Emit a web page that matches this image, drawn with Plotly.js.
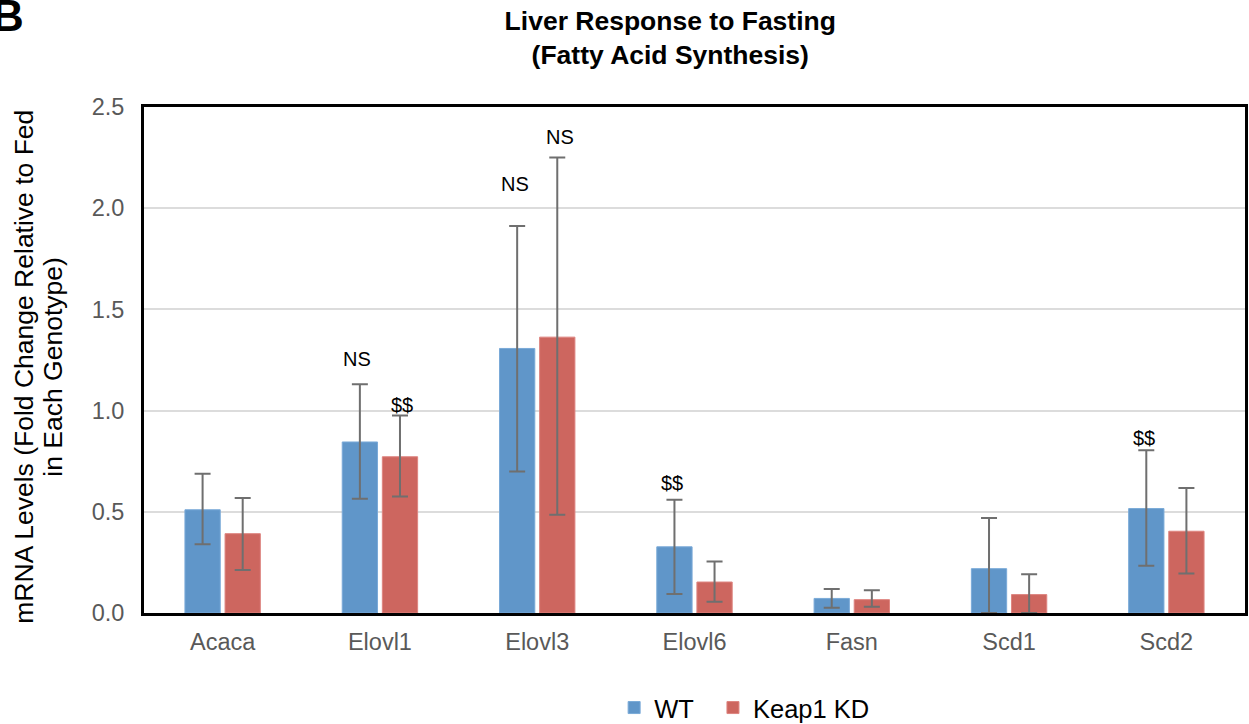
<!DOCTYPE html>
<html>
<head>
<meta charset="utf-8">
<script src="https://cdn.plot.ly/plotly-3.0.1.min.js"></script>
<style>html,body{margin:0;padding:0;background:#fff;}#chart{width:1249px;height:724px;}</style>
</head>
<body>
<div id="chart"></div>
<script>
const genes = ["Acaca", "Elovl1", "Elovl3", "Elovl6", "Fasn", "Scd1", "Scd2"];
const wtValues = [0.51, 0.845, 1.307, 0.327, 0.072, 0.219, 0.516];
const wtErrPlus = [0.178, 0.285, 0.605, 0.232, 0.047, 0.25, 0.288];
const wtErrMinus = [0.17, 0.28, 0.608, 0.233, 0.046, 0.219, 0.282];
const kdValues = [0.392, 0.772, 1.363, 0.153, 0.066, 0.091, 0.404];
const kdErrPlus = [0.176, 0.204, 0.887, 0.101, 0.046, 0.1, 0.213];
const kdErrMinus = [0.179, 0.196, 0.877, 0.097, 0.035, 0.091, 0.209];

const sigGene = ["Elovl1", "Elovl1", "Elovl3", "Elovl3", "Elovl6", "Scd2"];
const sigSeries = ["WT", "KD", "WT", "KD", "WT", "WT"];
const sigText = ["NS", "$$", "NS", "NS", "$$", "$$"];
const sigY = [1.255, 1.03, 2.12, 2.35, 0.64, 0.866];

const seriesNames = ["WT", "Keap1 KD"];
const yTitleLines = ["mRNA Levels (Fold Change Relative to Fed", "in Each Genotype)"];

const FONT = "Liberation Sans, Arial, Helvetica, sans-serif";
const errStyle = {color: "#6f6f6f", thickness: 2, width: 8};

const traces = [
  {
    type: "bar", name: seriesNames[0] + "\u00a0\u00a0", x: genes, y: wtValues,
    marker: {color: "#6096c9", line: {color: "#7aaad8", width: 1}},
    error_y: Object.assign({type: "data", symmetric: false, array: wtErrPlus, arrayminus: wtErrMinus}, errStyle)
  },
  {
    type: "bar", name: seriesNames[1], x: genes, y: kdValues,
    marker: {color: "#cd665f", line: {color: "#de8580", width: 1}},
    error_y: Object.assign({type: "data", symmetric: false, array: kdErrPlus, arrayminus: kdErrMinus}, errStyle)
  }
];

const annotations = sigText.map((t, i) => ({
  x: sigGene[i], y: sigY[i], xref: "x", yref: "y", text: t, showarrow: false,
  xshift: sigSeries[i] === "WT" ? -22.5 : 22.5,
  font: {family: FONT, size: 20, color: "#000"}
}));
// panel letter
annotations.push({
  xref: "paper", yref: "paper", x: -0.1398, y: 1.18, xanchor: "left", yanchor: "middle",
  text: "<b>B</b>", showarrow: false, font: {family: FONT, size: 44, color: "#000"}
});
// y-axis title, two lines
yTitleLines.forEach((line, i) => {
  annotations.push({
    xref: "paper", yref: "paper", x: (i === 0 ? 23.7 : 52.7) / 1101 - 144 / 1101, y: (613 - 367) / 506,
    xanchor: "center", yanchor: "middle", textangle: -90, text: line, showarrow: false,
    font: {family: FONT, size: 26.5, color: "#000"}
  });
});

const layout = {
  width: 1249, height: 724,
  margin: {l: 144, r: 4, t: 107, b: 111, autoexpand: false},
  paper_bgcolor: "#fff", plot_bgcolor: "#fff",
  title: {
    text: "<b>Liver Response to Fasting<br>(Fatty Acid Synthesis)</b>",
    x: 0.478, xref: "paper", xanchor: "center", y: 1 - 30 / 724, yanchor: "middle",
    font: {family: FONT, size: 26.5, color: "#000"}
  },
  barmode: "group", bargap: 0.49, bargroupgap: 0.12,
  showlegend: true,
  legend: {
    orientation: "h", x: 0.427, xanchor: "left", y: -0.1877, yanchor: "middle",
    font: {family: FONT, size: 25.5, color: "#000"}, itemwidth: 30, traceorder: "normal"
  },
  xaxis: {
    showline: true, linecolor: "#000", linewidth: 3, mirror: true,
    ticks: "", ticklabelstandoff: 6, tickfont: {family: FONT, size: 23.5, color: "#595959"},
    showgrid: false
  },
  yaxis: {
    range: [0, 2.5], dtick: 0.5, tickformat: ".1f",
    showline: true, linecolor: "#000", linewidth: 3, mirror: true,
    gridcolor: "#dcdcdc", gridwidth: 2, zeroline: false,
    ticks: "", ticklabelstandoff: 12,
    tickfont: {family: FONT, size: 23.5, color: "#595959"}
  },
  annotations: annotations
};

Plotly.newPlot("chart", traces, layout, {displayModeBar: false, staticPlot: true});
</script>
</body>
</html>
